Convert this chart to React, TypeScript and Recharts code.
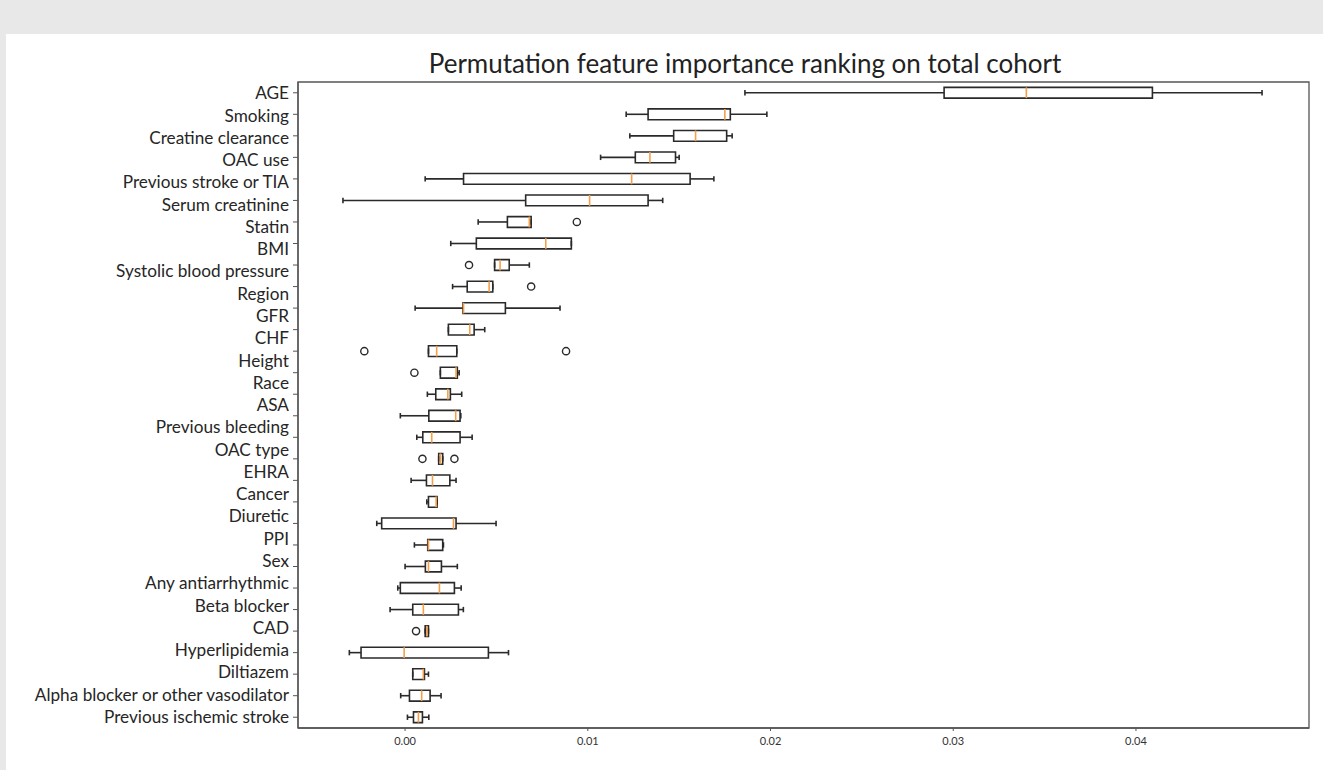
import React from "react";
import {
  ComposedChart,
  XAxis,
  YAxis,
  Scatter,
  ReferenceArea,
  ReferenceLine,
} from "recharts";

// y-axis text, top to bottom
const featureLabels = [
  "AGE",
  "Smoking",
  "Creatine clearance",
  "OAC use",
  "Previous stroke or TIA",
  "Serum creatinine",
  "Statin",
  "BMI",
  "Systolic blood pressure",
  "Region",
  "GFR",
  "CHF",
  "Height",
  "Race",
  "ASA",
  "Previous bleeding",
  "OAC type",
  "EHRA",
  "Cancer",
  "Diuretic",
  "PPI",
  "Sex",
  "Any antiarrhythmic",
  "Beta blocker",
  "CAD",
  "Hyperlipidemia",
  "Diltiazem",
  "Alpha blocker or other vasodilator",
  "Previous ischemic stroke",
];

// box statistics per row (row 1 = top), permutation importance
const whiskerLow = [
  0.0186, 0.0121, 0.0123, 0.0107, 0.0011, -0.0034, 0.004, 0.0025, 0.0049, 0.0026,
  0.00055, 0.00237, 0.00128, 0.00193, 0.00122, -0.00026, 0.00064, 0.00184, 0.00033, 0.00119,
  -0.00155, 0.00051, 0.0, -0.0004, -0.00082, 0.0011, -0.00305, 0.00042, -0.00024, 0.00013,
];
const boxLow = [
  0.0295, 0.0133, 0.0147, 0.0126, 0.0032, 0.0066, 0.0056, 0.0039, 0.0049, 0.0034,
  0.00317, 0.00237, 0.00128, 0.00193, 0.00168, 0.0013, 0.00097, 0.00184, 0.00117, 0.00128,
  -0.00128, 0.00124, 0.00111, -0.00026, 0.00042, 0.0011, -0.00241, 0.00042, 0.00024, 0.00046,
];
const medians = [
  0.034, 0.0175, 0.0159, 0.0134, 0.0124, 0.0101, 0.0068, 0.0077, 0.0052, 0.0046,
  0.0032, 0.00354, 0.00173, 0.00279, 0.00234, 0.00277, 0.00146, 0.00193, 0.0015, 0.0017,
  0.00265, 0.00128, 0.00128, 0.00188, 0.001, 0.00119, -0.00005, 0.001, 0.00091, 0.00073,
];
const boxHigh = [
  0.0409, 0.0178, 0.0176, 0.0148, 0.0156, 0.0133, 0.0069, 0.0091, 0.0057, 0.0048,
  0.00549, 0.00378, 0.00283, 0.00286, 0.00248, 0.00301, 0.00301, 0.00206, 0.00245, 0.00175,
  0.00279, 0.00206, 0.00199, 0.0027, 0.00292, 0.00128, 0.00456, 0.00106, 0.00137, 0.00095,
];
const whiskerHigh = [
  0.0469, 0.0198, 0.0179, 0.015, 0.0169, 0.0141, 0.0069, 0.0091, 0.0068, 0.0048,
  0.00848, 0.00436, 0.00283, 0.00296, 0.0031, 0.00305, 0.00367, 0.00206, 0.00279, 0.00175,
  0.00498, 0.0021, 0.00286, 0.00307, 0.00319, 0.00128, 0.00566, 0.00128, 0.00197, 0.0013,
];

// fliers: row number and value
const outlierRows = [7, 9, 10, 13, 13, 14, 18, 18, 26];
const outlierValues = [0.0094, 0.0035, 0.0069, -0.00223, 0.00881, 0.00051, 0.00095, 0.0027, 0.0006];

const xTicks = [0, 0.01, 0.02, 0.03, 0.04];
const X_DOMAIN: [number, number] = [-0.00586, 0.04947];

const rowCount = medians.length;
const rowTicks = medians.map((_, i) => i + 1);
const labelTicks = featureLabels.map((_, i) => i + 1);

const outlierPoints = outlierRows.map((row, i) => ({ value: outlierValues[i], pos: row }));

const BOX_COLOR = "#2a2a2a";
const MEDIAN_COLOR = "#f4a04a";
const HALF_BOX = 0.25;
const HALF_CAP = 0.125;

// axis ids: the rows axis sits next to the plot, the text axis outside it
const ROWS = "a_rows";
const TEXT = "b_labels";

function FlierDot(props: any) {
  const { cx, cy } = props;
  if (cx == null || cy == null) return null;
  return <circle cx={cx} cy={cy} r={3.6} fill="none" stroke={BOX_COLOR} strokeWidth={1.4} />;
}

function boxElements() {
  const ids = { xAxisId: "val", yAxisId: ROWS };
  return medians.flatMap((med, i) => {
    const pos = i + 1;
    const line = { stroke: BOX_COLOR, strokeWidth: 1.6, ...ids };
    return [
      <ReferenceLine key={`wl${i}`} {...line} segment={[{ x: whiskerLow[i], y: pos }, { x: boxLow[i], y: pos }]} />,
      <ReferenceLine key={`wh${i}`} {...line} segment={[{ x: boxHigh[i], y: pos }, { x: whiskerHigh[i], y: pos }]} />,
      <ReferenceLine key={`cl${i}`} {...line} segment={[{ x: whiskerLow[i], y: pos - HALF_CAP }, { x: whiskerLow[i], y: pos + HALF_CAP }]} />,
      <ReferenceLine key={`ch${i}`} {...line} segment={[{ x: whiskerHigh[i], y: pos - HALF_CAP }, { x: whiskerHigh[i], y: pos + HALF_CAP }]} />,
      <ReferenceArea
        key={`bx${i}`}
        {...ids}
        x1={boxLow[i]}
        x2={boxHigh[i]}
        y1={pos - HALF_BOX}
        y2={pos + HALF_BOX}
        fill="#ffffff"
        fillOpacity={1}
        stroke={BOX_COLOR}
        strokeWidth={1.6}
      />,
      <ReferenceLine
        key={`md${i}`}
        {...ids}
        stroke={MEDIAN_COLOR}
        strokeWidth={1.6}
        segment={[{ x: med, y: pos - HALF_BOX }, { x: med, y: pos + HALF_BOX }]}
      />,
    ];
  });
}

export default function App() {
  return (
    <div
      style={{
        position: "absolute",
        left: 0,
        top: 0,
        width: 1323,
        height: 770,
        background: "#e7e8e7",
        overflow: "hidden",
        fontFamily: "Lato, 'Open Sans', sans-serif",
      }}
    >
      <div style={{ position: "absolute", left: 6, top: 34, right: 0, bottom: 0, background: "#ffffff" }} />
      <div
        style={{
          position: "absolute",
          left: 745,
          top: 48,
          transform: "translateX(-50%)",
          whiteSpace: "nowrap",
          fontSize: 26,
          lineHeight: 1.2,
          color: "#222",
        }}
      >
        Permutation feature importance ranking on total cohort
      </div>
      <div style={{ position: "absolute", left: 0, top: 0 }}>
        <ComposedChart width={1323} height={770} margin={{ top: 82, right: 14, bottom: 12, left: 0 }}>
          <XAxis
            xAxisId="val"
            type="number"
            dataKey="value"
            domain={X_DOMAIN}
            allowDataOverflow
            ticks={xTicks}
            tickFormatter={(v: number) => v.toFixed(2)}
            tick={{ fontSize: 11, fill: "#333", fontFamily: "Lato" }}
            tickSize={3}
            tickMargin={6}
            tickLine={{ stroke: "#555" }}
            axisLine={{ stroke: "#555", strokeWidth: 1.3 }}
          />
          <YAxis
            yAxisId={TEXT}
            type="number"
            domain={[0.5, featureLabels.length + 0.5]}
            allowDataOverflow
            reversed
            ticks={labelTicks}
            interval={0}
            width={290}
            tickSize={0}
            tickMargin={1}
            tickLine={false}
            axisLine={false}
            tickFormatter={(v: number) => featureLabels[v - 1] ?? ""}
            tick={{ fontSize: 17.2, fill: "#262626", fontFamily: "Lato" }}
          />
          <YAxis
            yAxisId={ROWS}
            type="number"
            dataKey="pos"
            domain={[0.5, rowCount + 0.5]}
            allowDataOverflow
            reversed
            ticks={rowTicks}
            interval={0}
            width={8}
            tickSize={5}
            tickFormatter={() => ""}
            tickLine={{ stroke: "#555" }}
            axisLine={{ stroke: "#555", strokeWidth: 1.3 }}
          />
          <ReferenceArea
            xAxisId="val"
            yAxisId={ROWS}
            x1={X_DOMAIN[0]}
            x2={X_DOMAIN[1]}
            y1={0.5}
            y2={rowCount + 0.5}
            fill="none"
            stroke="#555"
            strokeWidth={1.3}
          />
          {boxElements()}
          <Scatter
            xAxisId="val"
            yAxisId={ROWS}
            data={outlierPoints}
            dataKey="pos"
            shape={FlierDot}
            isAnimationActive={false}
          />
        </ComposedChart>
      </div>
    </div>
  );
}
